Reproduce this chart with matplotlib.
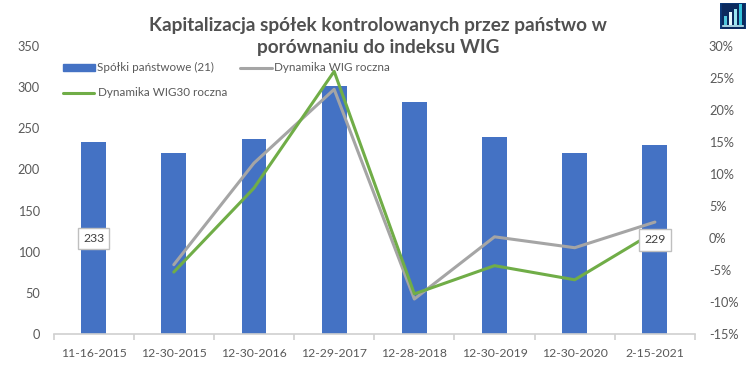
import matplotlib
matplotlib.use("Agg")
import matplotlib.pyplot as plt
from matplotlib.patches import Rectangle

W, H = 750, 377
categories = ["11-16-2015", "12-30-2015", "12-30-2016", "12-29-2017", "12-28-2018", "12-30-2019", "12-30-2020", "2-15-2021"]
spolki = [233, 220, 237, 301, 282, 239, 220, 229]
wig = [None, -4.15, 11.7, 23.2, -9.5, 0.2, -1.5, 2.5]
wig30 = [None, -5.3, 7.8, 26.0, -8.7, -4.3, -6.5, 1.0]
left_ticks = [0, 50, 100, 150, 200, 250, 300, 350]
right_ticks = [-15, -10, -5, 0, 5, 10, 15, 20, 25, 30]
title = "Kapitalizacja spółek kontrolowanych przez państwo w\nporównaniu do indeksu WIG"
labelled = {0: 233, 7: 229}

plt.rcParams["font.family"] = ["Lato", "DejaVu Sans"]
TXT = "#595959"
fig = plt.figure(figsize=(W / 100, H / 100), dpi=100, facecolor="white")
L, R, T, B = 53.5, 695, 45.7, 334.3
ax = fig.add_axes([L / W, 1 - B / H, (R - L) / W, (B - T) / H])
ax2 = ax.twinx()
ax.set_zorder(1); ax2.set_zorder(2); ax2.patch.set_visible(False); ax.patch.set_visible(False)
x = list(range(len(categories)))
ax.bar(x, spolki, width=0.31, color="#4472C4", label="Spółki państwowe (21)")
ax.set_xlim(-0.5, 7.5); ax.set_ylim(0, 350)
ax.set_yticks(left_ticks); ax.set_xticks([i - 0.5 for i in range(9)])
ax.set_xticklabels([])
ax.tick_params(axis="x", length=4.2, color="#D0D0D0", width=1.2)
ax.tick_params(axis="y", length=0, labelsize=9.2, labelcolor=TXT, pad=9.7)
for s in ["top", "left", "right"]:
    ax.spines[s].set_visible(False); ax2.spines[s].set_visible(False)
ax.spines["bottom"].set_color("#D0D0D0"); ax.spines["bottom"].set_linewidth(1.2)
ax2.spines["bottom"].set_visible(False)
for i, c in zip(x, categories):
    ax.annotate(c, (i, 0), xytext=(0, -13.5), xycoords="data", textcoords="offset points",
                ha="center", va="center", fontsize=8.8, color=TXT)

xs = [i for i in x if wig[i] is not None]
ax2.plot(xs, [wig[i] for i in xs], color="#A5A5A5", lw=2.2, solid_capstyle="round", label="Dynamika WIG roczna")
ax2.plot(xs, [wig30[i] for i in xs], color="#70AD47", lw=2.2, solid_capstyle="round", label="Dynamika WIG30 roczna")
ax2.set_ylim(-15, 30); ax2.set_yticks(right_ticks)
ax2.set_yticklabels([f"{v}%" for v in right_ticks])
ax2.tick_params(axis="y", length=0, labelsize=9.2, labelcolor=TXT, pad=10)

for i, v in labelled.items():
    ax2.annotate(str(v), (i, v / 2), xycoords=ax.transData, ha="center", va="center", fontsize=8.8,
                 color="#404040", zorder=10,
                 bbox=dict(boxstyle="square,pad=0.42", fc="white", ec="#BFBFBF", lw=1))

fig.text(378 / W, 1 - 36.5 / H, title, ha="center", va="center", fontsize=13.7, fontweight="bold",
         color="#505050", linespacing=1.36)

# legend, placed by hand as in the source
def legend_item(px0, px1, py, tx, text, kind, color):
    if kind == "bar":
        fig.patches.append(Rectangle((px0 / W, 1 - (py + 3.5) / H), (px1 - px0) / W, 7 / H,
                                     transform=fig.transFigure, color=color))
    else:
        fig.add_artist(plt.Line2D([px0 / W, px1 / W], [1 - py / H] * 2, color=color, lw=2.2,
                                  solid_capstyle="round", zorder=5))
    fig.text(tx / W, 1 - py / H, text, ha="left", va="center", fontsize=8.4, color=TXT, zorder=6)

legend_item(63, 95, 67.5, 97, "Spółki państwowe (21)", "bar", "#4472C4")
legend_item(240, 272, 67.5, 274.5, "Dynamika WIG roczna", "line", "#A5A5A5")
legend_item(62.5, 94, 92.5, 97.5, "Dynamika WIG30 roczna", "line", "#70AD47")

# corner logo
ic = fig.add_axes([720 / W, 1 - 29 / H, 26 / W, 26 / H])
ic.set_xlim(0, 26); ic.set_ylim(0, 26); ic.axis("off")
ic.add_patch(Rectangle((0, 0), 26, 26, color="#0B3A7A"))
ic.add_patch(Rectangle((1.5, 1.5), 23, 23, color="#0B2A5E"))
ic.bar([5.5, 10.5, 15.5, 20.5], [8, 12, 15, 20], width=3.4, bottom=4.5,
       color=["#4FC6DC", "#E6FAFD", "#9BE6F2", "#35C3DC"])
ic.plot([2.5, 23.5], [3, 3], color="#BFEFFA", lw=1.2)

fig.savefig("out.png", dpi=100, facecolor="white")
